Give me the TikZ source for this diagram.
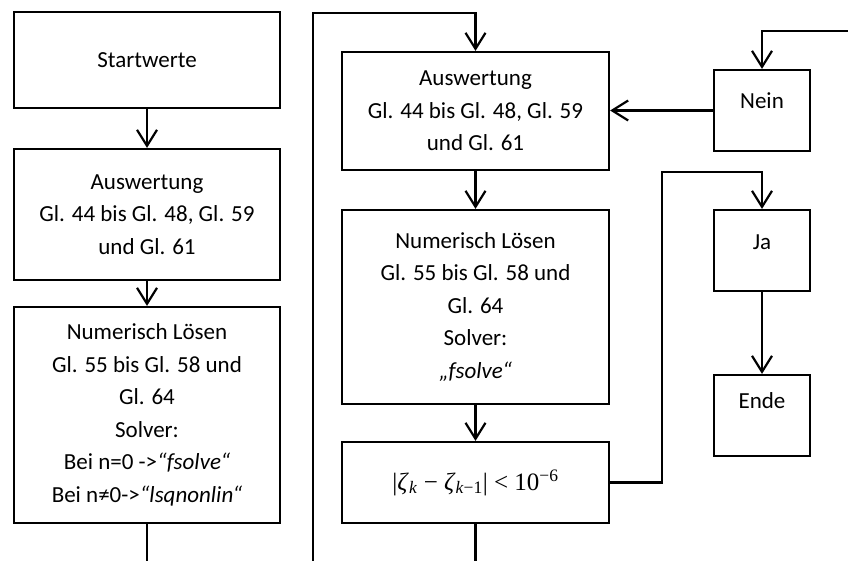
\documentclass[tikz,border=0pt]{standalone}
\usepackage{fontspec}
\setmainfont{Carlito}
\newfontfamily\frmfont{Liberation Serif}
\usetikzlibrary{arrows.meta}
\begin{document}
\begin{tikzpicture}[x=1pt,y=-1pt,line width=2.2pt,
  box/.style={draw,line width=2.2pt,align=center,inner sep=0pt,font=\fontsize{23}{32.5}\selectfont},
  lbl/.style={anchor=base,inner sep=0pt,font=\fontsize{23}{32.5}\selectfont},
  arr/.style={-{Straight Barb[length=16pt,width=20pt,line width=2.2pt]}}]
\useasboundingbox (0,0) rectangle (848,561);
% left column
\node[box,minimum width=266pt,minimum height=96pt] (start) at (147,60) {Startwerte};
\node[box,minimum width=266pt,minimum height=131pt] (aus1) at (147,214.5) {Auswertung\\Gl. 44 bis Gl. 48, Gl. 59\\und Gl. 61};
\node[box,minimum width=266pt,minimum height=216pt] (num1) at (147,415) {Numerisch Lösen\\Gl. 55 bis Gl. 58 und\\Gl. 64\\Solver:\\Bei n=0 ->\textit{“fsolve“}\\Bei n≠0->\textit{“lsqnonlin“}};
% middle column
\node[box,minimum width=267pt,minimum height=118pt] (ausA) at (475.5,111) {Auswertung\\Gl. 44 bis Gl. 48, Gl. 59\\und Gl. 61};
\node[box,minimum width=267pt,minimum height=194pt] (numB) at (475.5,307) {Numerisch Lösen\\Gl. 55 bis Gl. 58 und\\Gl. 64\\Solver:\\\textit{„fsolve“}};
\node[box,minimum width=267pt,minimum height=81pt,font=\frmfont\fontsize{25}{32}\selectfont] (cond) at (475.5,482.5)
  {|\textit{ζ}\textsubscript{\textit{k}} − \textit{ζ}\textsubscript{\textit{k}−1}| < 10\textsuperscript{−6}};
% right column
\node[box,minimum width=96pt,minimum height=81pt] (nein) at (762,110.5) {};
\node[lbl] (neinT) at (762,108.5) {Nein};
\node[box,minimum width=96pt,minimum height=81pt] (ja) at (762,250.5) {};
\node[lbl] (jaT) at (762,249.5) {Ja};
\node[box,minimum width=96pt,minimum height=81pt] (ende) at (762,415.5) {};
\node[lbl] (endeT) at (762,408.5) {Ende};
% free ends
\coordinate (c1) at (147,561);
\coordinate (lb) at (313,561);
\coordinate (lt) at (313,13);
\coordinate (c2) at (475.5,561);
\coordinate (j1) at (662,172);
\coordinate (n1) at (848,31);
% connectors
\draw[arr] (start) -- (aus1);
\draw[arr] (aus1) -- (num1);
\draw (num1.south) -- (c1);
\draw[arr] (lb) -- (lt) -| (ausA.north);
\draw[arr] (ausA) -- (numB);
\draw[arr] (numB) -- (cond);
\draw (cond.south) -- (c2);
\draw[arr] (cond.east) -| (j1) -| (ja.north);
\draw[arr] (n1) -| (nein.north);
\draw[arr] (nein.west) -- (ausA.east |- nein.west);
\draw[arr] (ja) -- (ende);
\end{tikzpicture}
\end{document}
